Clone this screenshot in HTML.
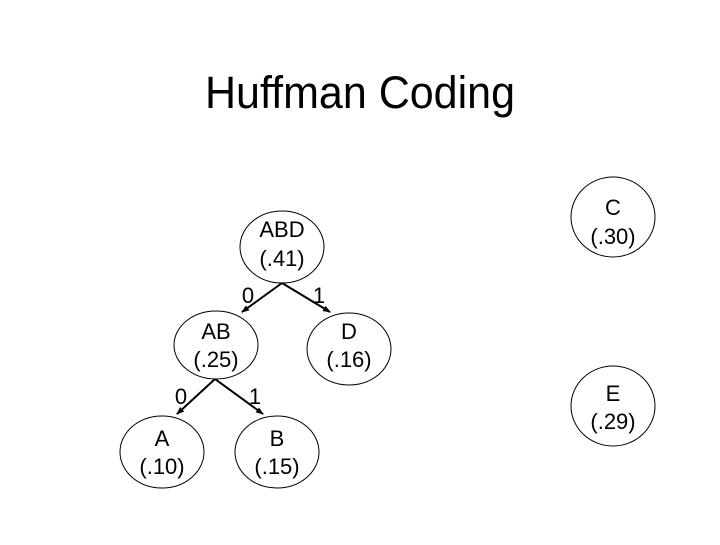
<!DOCTYPE html>
<html><head><meta charset="utf-8"><style>html,body{margin:0;padding:0;background:#fff}</style></head>
<body>
<svg width="720" height="540" xmlns="http://www.w3.org/2000/svg" font-family="Liberation Sans, Arial, sans-serif">
<defs><marker id="ar" markerWidth="8" markerHeight="8" refX="7" refY="4" orient="auto" markerUnits="userSpaceOnUse"><path d="M0,1 L8,4 L0,7 Z" fill="#000"/></marker></defs>
<rect width="720" height="540" fill="#fff"/>
<text x="360" y="108" font-size="45" text-anchor="middle" textLength="310" lengthAdjust="spacingAndGlyphs">Huffman Coding</text>
<g fill="none" stroke="#000" stroke-width="1">
<ellipse cx="282" cy="247" rx="42" ry="36"/>
<ellipse cx="216" cy="345" rx="42" ry="34"/>
<ellipse cx="349" cy="349" rx="42" ry="36"/>
<ellipse cx="162" cy="452" rx="42" ry="36"/>
<ellipse cx="277" cy="452" rx="42" ry="36"/>
<ellipse cx="613" cy="217" rx="42" ry="40"/>
<ellipse cx="613" cy="406" rx="42" ry="40"/>
</g>
<g stroke="#000" stroke-width="2" marker-end="url(#ar)">
<line x1="282" y1="283" x2="242" y2="312"/>
<line x1="282" y1="283" x2="330" y2="312"/>
<line x1="215" y1="379" x2="177" y2="414"/>
<line x1="215" y1="379" x2="263" y2="414"/>
</g>
<g font-size="22" text-anchor="middle" fill="#000">
<text x="282" y="237">ABD</text><text x="282" y="266">(.41)</text>
<text x="216" y="339">AB</text><text x="216" y="367">(.25)</text>
<text x="349" y="339">D</text><text x="349" y="367">(.16)</text>
<text x="162" y="446">A</text><text x="162" y="474">(.10)</text>
<text x="277" y="446">B</text><text x="277" y="474">(.15)</text>
<text x="613" y="215">C</text><text x="613" y="244">(.30)</text>
<text x="613" y="401">E</text><text x="613" y="429">(.29)</text>
<text x="248" y="303">0</text><text x="319" y="303">1</text>
<text x="181" y="404">0</text><text x="255" y="404">1</text>
</g>
</svg>
</body></html>
